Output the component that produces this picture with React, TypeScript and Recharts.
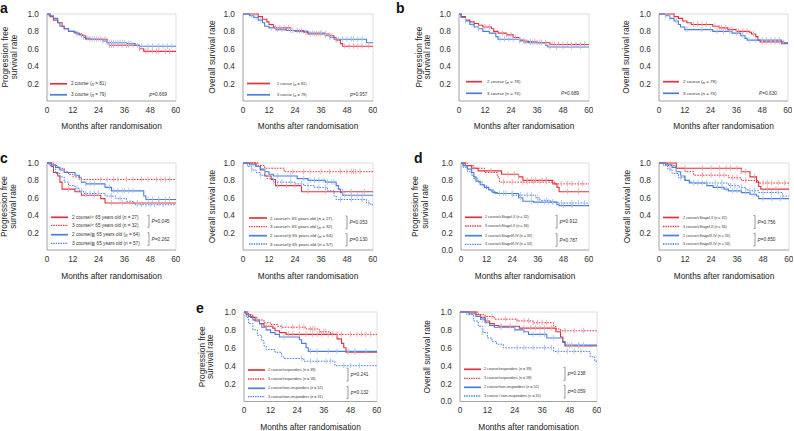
import React from "react"
import { ComposedChart, Line, Scatter, XAxis, YAxis, ReferenceLine } from "recharts"

type Pt = [number, number]

const FONT = '"Liberation Sans", Arial, Helvetica, sans-serif'
const RED = "#e0333d"
const RED_L = "#f3a2aa"
const BLUE = "#4a7edb"
const BLUE_L = "#a6c2ef"

const monthTicks = [0, 12, 24, 36, 48, 60]
const rateTicks = [0.2, 0.4, 0.6, 0.8, 1.0]
const rateTicksZero = [0, 0.2, 0.4, 0.6, 0.8, 1.0]

// a: all patients
const aPfs2: Pt[] = [[0, 1], [1.5, 0.97], [3, 0.93], [5, 0.9], [7, 0.86], [8, 0.83], [10, 0.8], [12.5, 0.79], [14, 0.77], [16, 0.75], [18, 0.72], [20, 0.71], [28, 0.67], [29, 0.64], [43, 0.6], [45, 0.57], [60, 0.57]]
const aPfs3: Pt[] = [[0, 1], [1, 0.98], [3, 0.95], [5, 0.9], [6, 0.86], [8, 0.83], [10, 0.8], [13, 0.78], [15, 0.76], [17, 0.73], [18, 0.71], [26, 0.69], [28, 0.67], [37, 0.66], [41, 0.64], [43, 0.63], [60, 0.63]]
const aPfs2Cens = [14, 16, 19, 21, 23, 25, 27, 29, 30, 31, 33, 35, 37, 38, 40, 43, 46, 47, 49, 51, 52, 55, 57]
const aPfs3Cens = [17, 20, 22, 24, 26, 28, 29, 30, 31, 32, 33, 34, 35, 36, 38, 39, 42, 44, 47, 49, 52, 54, 56, 58]
const aOs2: Pt[] = [[0, 1], [7, 0.97], [9, 0.94], [11, 0.91], [12, 0.88], [14, 0.85], [15, 0.84], [22, 0.81], [28, 0.79], [30, 0.77], [40, 0.75], [42, 0.73], [43, 0.7], [45, 0.66], [46, 0.63], [60, 0.63]]
const aOs3: Pt[] = [[0, 1], [3, 0.98], [5, 0.96], [7, 0.93], [9, 0.9], [10, 0.86], [12, 0.84], [15, 0.82], [20, 0.81], [24, 0.8], [30, 0.78], [38, 0.75], [40, 0.73], [42, 0.71], [57, 0.67], [60, 0.67]]
const aOs2Cens = [15, 17, 19, 21, 23, 25, 27, 29, 31, 33, 34, 35, 36, 38, 40, 41, 43, 47, 49, 51, 53, 55, 58]
const aOs3Cens = [4, 6, 8, 13, 16, 18, 22, 26, 32, 36, 38, 40, 44, 46, 48, 50, 51, 53, 55]

// b
const bPfs2: Pt[] = [[0, 1], [1, 0.97], [3, 0.93], [5, 0.91], [7, 0.89], [9, 0.87], [11, 0.85], [15, 0.83], [16, 0.8], [18, 0.78], [22, 0.76], [25, 0.73], [28, 0.7], [30, 0.68], [36, 0.67], [42, 0.65], [60, 0.65]]
const bPfs3: Pt[] = [[0, 1], [1, 0.96], [3, 0.92], [5, 0.88], [7, 0.85], [9, 0.83], [11, 0.8], [14, 0.78], [17, 0.74], [18, 0.71], [28, 0.69], [32, 0.67], [40, 0.64], [41, 0.62], [60, 0.62]]
const bPfs2Cens = [12, 14, 20, 22, 24, 26, 28, 30, 31, 33, 35, 37, 38, 40, 43, 44, 46, 48, 50, 52, 54, 56, 58]
const bPfs3Cens = [3, 6, 9, 19, 21, 23, 25, 28, 30, 33, 34, 36, 38, 42, 45, 48, 52, 56]
const bOs2: Pt[] = [[0, 1], [7, 0.97], [9, 0.95], [11, 0.92], [13, 0.9], [15, 0.88], [25, 0.86], [28, 0.84], [32, 0.82], [36, 0.8], [42, 0.79], [43, 0.77], [45, 0.74], [46, 0.7], [47, 0.68], [58, 0.67], [60, 0.67]]
const bOs3: Pt[] = [[0, 1], [3, 0.98], [5, 0.95], [7, 0.92], [9, 0.88], [10, 0.85], [12, 0.82], [25, 0.8], [34, 0.78], [38, 0.75], [40, 0.72], [41, 0.7], [57, 0.66], [60, 0.66]]
const bOs2Cens = [16, 18, 20, 22, 26, 28, 29, 31, 33, 34, 36, 37, 39, 41, 44, 48, 50, 52, 54, 56, 58]
const bOs3Cens = [3, 5, 8, 13, 20, 24, 27, 30, 33, 36, 39, 42, 45, 48, 50, 52, 54, 56]

// c: by age
const cPfs2Young: Pt[] = [[0, 1], [2, 0.96], [3, 0.89], [5, 0.85], [6, 0.78], [7, 0.7], [13, 0.67], [16, 0.63], [25, 0.59], [27, 0.54], [60, 0.54]]
const cPfs3Young: Pt[] = [[0, 1], [3, 0.97], [5, 0.94], [8, 0.9], [10, 0.87], [12, 0.84], [15, 0.81], [60, 0.81]]
const cPfs2Old: Pt[] = [[0, 1], [2, 0.98], [4, 0.95], [6, 0.92], [8, 0.89], [13, 0.86], [15, 0.83], [16, 0.78], [18, 0.76], [27, 0.72], [30, 0.68], [45, 0.62], [46, 0.58], [60, 0.58]]
const cPfs3Old: Pt[] = [[0, 1], [1, 0.97], [3, 0.93], [4, 0.88], [6, 0.84], [8, 0.78], [10, 0.74], [13, 0.71], [15, 0.68], [17, 0.65], [27, 0.62], [32, 0.59], [37, 0.56], [40, 0.54], [41, 0.52], [60, 0.52]]
const cPfs2YoungCens = [10, 18, 22, 30, 35, 42, 52]
const cPfs3YoungCens = [16, 25, 28, 31, 33, 37, 40, 44, 47, 51, 53, 55, 57]
const cPfs2OldCens = [18, 20, 22, 29, 31, 33, 35, 36, 38, 40, 47, 49, 52, 55, 57]
const cPfs3OldCens = [14, 16, 18, 20, 22, 24, 30, 34, 42, 44, 46, 48, 50, 54]
const cOs2Young: Pt[] = [[0, 1], [6, 0.96], [8, 0.92], [10, 0.85], [13, 0.81], [15, 0.74], [27, 0.67], [60, 0.67]]
const cOs3Young: Pt[] = [[0, 1], [7, 0.97], [10, 0.94], [19, 0.9], [60, 0.9]]
const cOs2Old: Pt[] = [[0, 1], [3, 0.98], [6, 0.96], [8, 0.93], [10, 0.9], [12, 0.87], [14, 0.85], [25, 0.82], [30, 0.8], [38, 0.78], [43, 0.74], [44, 0.7], [45, 0.66], [46, 0.63], [60, 0.63]]
const cOs3Old: Pt[] = [[0, 1], [2, 0.96], [4, 0.92], [6, 0.89], [8, 0.86], [11, 0.82], [14, 0.78], [24, 0.76], [28, 0.74], [33, 0.72], [39, 0.68], [42, 0.62], [43, 0.58], [57, 0.54], [59, 0.52], [60, 0.52]]
const cOs2YoungCens = [16, 20, 24, 30, 38, 46, 50, 56]
const cOs3YoungCens = [23, 28, 31, 36, 40, 45, 48, 50, 51, 52, 54]
const cOs2OldCens = [10, 16, 22, 28, 31, 33, 35, 37, 39, 41, 42, 47, 50, 53, 55]
const cOs3OldCens = [4, 8, 14, 18, 22, 27, 30, 35, 38, 45, 50, 55, 58]

// d: by clinical stage
const dPfs2Early: Pt[] = [[0, 1], [2, 0.97], [5, 0.94], [8, 0.91], [19, 0.87], [27, 0.84], [29, 0.8], [43, 0.76], [45, 0.72], [46, 0.67], [60, 0.67]]
const dPfs3Early: Pt[] = [[0, 1], [3, 0.97], [6, 0.94], [11, 0.89], [17, 0.84], [18, 0.78], [44, 0.76], [60, 0.76]]
const dPfs2Late: Pt[] = [[0, 1], [1, 0.97], [3, 0.93], [5, 0.89], [6, 0.84], [7, 0.79], [9, 0.75], [11, 0.72], [13, 0.69], [15, 0.66], [17, 0.65], [27, 0.6], [29, 0.56], [34, 0.55], [45, 0.52], [46, 0.51], [60, 0.51]]
const dPfs3Late: Pt[] = [[0, 1], [1, 0.95], [3, 0.9], [5, 0.86], [6, 0.82], [8, 0.78], [10, 0.74], [12, 0.7], [14, 0.67], [16, 0.65], [24, 0.63], [35, 0.6], [37, 0.57], [42, 0.55], [45, 0.54], [60, 0.54]]
const dPfs2EarlyCens = [6, 14, 22, 25, 27, 31, 33, 35, 38, 40, 50, 55]
const dPfs3EarlyCens = [20, 24, 29, 31, 34, 37, 40, 47, 50, 52, 55, 57]
const dPfs2LateCens = [20, 24, 28, 33, 36, 39, 41, 43, 48, 52]
const dPfs3LateCens = [18, 21, 24, 28, 31, 33, 36, 40, 43, 47, 52, 55, 58]
const dOs2Early: Pt[] = [[0, 1], [8, 0.94], [38, 0.9], [42, 0.84], [45, 0.78], [46, 0.73], [47, 0.7], [60, 0.7]]
const dOs3Early: Pt[] = [[0, 1], [4, 0.97], [8, 0.94], [12, 0.9], [16, 0.86], [32, 0.83], [38, 0.8], [46, 0.77], [60, 0.77]]
const dOs2Late: Pt[] = [[0, 1], [3, 0.98], [6, 0.95], [8, 0.9], [10, 0.85], [12, 0.8], [14, 0.77], [22, 0.74], [25, 0.72], [30, 0.7], [32, 0.68], [38, 0.66], [42, 0.64], [45, 0.62], [46, 0.59], [60, 0.59]]
const dOs3Late: Pt[] = [[0, 1], [2, 0.97], [4, 0.93], [6, 0.88], [9, 0.83], [12, 0.8], [14, 0.78], [16, 0.77], [32, 0.74], [37, 0.72], [40, 0.7], [41, 0.68], [46, 0.66], [57, 0.62], [60, 0.62]]
const dOs2EarlyCens = [12, 20, 24, 28, 31, 33, 36, 38, 40, 44, 50, 54]
const dOs3EarlyCens = [20, 24, 28, 30, 34, 36, 40, 48, 50, 52, 55, 58]
const dOs2LateCens = [8, 16, 20, 27, 29, 31, 34, 36, 40, 44, 48, 52, 56]
const dOs3LateCens = [5, 10, 18, 22, 26, 29, 33, 35, 38, 42, 44, 48, 52, 55, 57]

// e: by response
const ePfs2Resp: Pt[] = [[0, 1], [1, 0.97], [3, 0.94], [5, 0.9], [7, 0.87], [9, 0.84], [13, 0.82], [14, 0.79], [16, 0.77], [19, 0.75], [42, 0.7], [44, 0.65], [45, 0.6], [46, 0.55], [60, 0.55]]
const ePfs3Resp: Pt[] = [[0, 1], [2, 0.97], [4, 0.94], [6, 0.91], [9, 0.88], [12, 0.86], [15, 0.84], [17, 0.83], [28, 0.81], [34, 0.78], [39, 0.76], [40, 0.75], [60, 0.75]]
const ePfs2Non: Pt[] = [[0, 1], [1, 0.98], [2, 0.95], [4, 0.91], [7, 0.87], [8, 0.83], [10, 0.8], [12, 0.77], [14, 0.75], [16, 0.72], [25, 0.69], [26, 0.65], [28, 0.6], [29, 0.56], [60, 0.56]]
const ePfs3Non: Pt[] = [[0, 1], [1, 0.94], [2, 0.87], [4, 0.8], [6, 0.74], [8, 0.68], [9, 0.62], [10, 0.58], [14, 0.55], [17, 0.5], [18, 0.48], [27, 0.45], [41, 0.4], [60, 0.4]]
const ePfs2RespCens = [10, 20, 22, 25, 28, 31, 33, 35, 38, 40, 47, 50]
const ePfs3RespCens = [6, 17, 22, 25, 27, 30, 31, 32, 34, 36, 37, 42, 44, 48, 51, 53, 55, 57]
const ePfs2NonCens = [18, 30, 33, 38, 42, 47, 50, 55]
const ePfs3NonCens = [26, 30, 33, 37, 39, 45, 48, 52]
const eOs2Resp: Pt[] = [[0, 1], [7, 0.97], [9, 0.94], [11, 0.9], [13, 0.87], [15, 0.85], [17, 0.84], [26, 0.82], [42, 0.78], [44, 0.72], [45, 0.67], [46, 0.62], [60, 0.62]]
const eOs3Resp: Pt[] = [[0, 1], [8, 0.97], [11, 0.95], [15, 0.92], [25, 0.9], [32, 0.88], [41, 0.84], [42, 0.81], [44, 0.79], [60, 0.79]]
const eOs2Non: Pt[] = [[0, 1], [4, 0.98], [7, 0.95], [9, 0.92], [11, 0.88], [13, 0.85], [15, 0.83], [24, 0.8], [28, 0.78], [30, 0.75], [38, 0.71], [45, 0.66], [46, 0.63], [60, 0.63]]
const eOs3Non: Pt[] = [[0, 1], [3, 0.97], [6, 0.9], [8, 0.84], [10, 0.77], [12, 0.71], [14, 0.67], [16, 0.64], [19, 0.6], [41, 0.56], [57, 0.5], [59, 0.45], [60, 0.45]]
const eOs2RespCens = [12, 18, 22, 28, 31, 33, 35, 37, 40, 48, 52]
const eOs3RespCens = [14, 20, 25, 28, 30, 32, 34, 36, 38, 46, 50, 54]
const eOs2NonCens = [10, 18, 24, 28, 32, 35, 37, 41, 47, 49, 52, 54]
const eOs3NonCens = [10, 25, 28, 32, 37, 40, 43, 47, 50, 53]

// legend labels and p values
const courseLabels = ["2 course", "3 course"]
const ageLabels = ["2 course/< 65 years old", "3 course/< 65 years old", "2 course/\u2267 65 years old", "3 course/\u2267 65 years old"]
const stageLabels = ["2 course/cStageI-II", "3 course/cStageI-II", "2 course/cStageIII-IV", "3 course/cStageIII-IV"]
const respLabels = ["2 course/responders", "3 course/responders", "2 course/non-responders", "3 course/non-responders"]
const respLabelsOs = ["2 course/responders", "3 course/responders", "2 course/non-responders", "3 course / non-responders"]
const aN = [81, 79]
const bN = [78, 76]
const cN = [27, 32, 64, 57]
const dN = [32, 36, 59, 53]
const eN = [39, 58, 52, 31]

type Curve = { pts: Pt[]; cens: number[]; color: string; light: string; dashed: boolean }
const red = (pts: Pt[], cens: number[], dashed = false): Curve => ({ pts, cens, color: RED, light: RED_L, dashed })
const blue = (pts: Pt[], cens: number[], dashed = false): Curve => ({ pts, cens, color: BLUE, light: BLUE_L, dashed })

type Panel = {
  letter?: { ch: string; x: number; y: number }
  kind: "pfs" | "os"
  box: { x0: number; x1: number; yT: number; yB: number }
  yTicks: number[]
  curves: Curve[]
  labels: string[]
  ns: number[]
  pvals: string[]
  lg: { rows: number[]; l0: number; l1: number; tx: number; fs: number; px: number; pfs: number }
  titleX: number[]
}

const row1 = { yT: 13.5, yB: 100.5 }
const row2 = { yT: 163, yB: 250 }
const row3 = { yT: 312, yB: 401.5 }

const panels: Panel[] = [
  {
    letter: { ch: "a", x: 0, y: 12.5 }, kind: "pfs", box: { x0: 47, x1: 176, ...row1 }, yTicks: rateTicks,
    curves: [red(aPfs2, aPfs2Cens), blue(aPfs3, aPfs3Cens)],
    labels: courseLabels, ns: aN, pvals: ["0.669"],
    lg: { rows: [70.3, 81.3], l0: 3, l1: 20, tx: 24, fs: 4.6, px: 102, pfs: 4.8 }, titleX: [-42, -33.5],
  },
  {
    kind: "os", box: { x0: 243, x1: 373, ...row1 }, yTicks: rateTicks,
    curves: [red(aOs2, aOs2Cens), blue(aOs3, aOs3Cens)],
    labels: courseLabels, ns: aN, pvals: ["0.957"],
    lg: { rows: [70, 81.3], l0: 4, l1: 27, tx: 34, fs: 3.9, px: 107, pfs: 4.6 }, titleX: [-31.5],
  },
  {
    letter: { ch: "b", x: 396, y: 13 }, kind: "pfs", box: { x0: 459, x1: 589, ...row1 }, yTicks: rateTicks,
    curves: [red(bPfs2, bPfs2Cens), blue(bPfs3, bPfs3Cens)],
    labels: courseLabels, ns: bN, pvals: ["0.689"],
    lg: { rows: [68.2, 79.8], l0: 7, l1: 23, tx: 28, fs: 4.4, px: 102, pfs: 4.8 }, titleX: [-40.5, -32.5],
  },
  {
    kind: "os", box: { x0: 659, x1: 788, ...row1 }, yTicks: rateTicks,
    curves: [red(bOs2, bOs2Cens), blue(bOs3, bOs3Cens)],
    labels: courseLabels, ns: bN, pvals: ["0.630"],
    lg: { rows: [68.2, 79.8], l0: 4, l1: 20, tx: 24, fs: 4.4, px: 100, pfs: 4.8 }, titleX: [-33.5],
  },
  {
    letter: { ch: "c", x: 0, y: 163 }, kind: "pfs", box: { x0: 47, x1: 176, ...row2 }, yTicks: rateTicks,
    curves: [red(cPfs2Young, cPfs2YoungCens), red(cPfs3Young, cPfs3YoungCens, true), blue(cPfs2Old, cPfs2OldCens), blue(cPfs3Old, cPfs3OldCens, true)],
    labels: ageLabels, ns: cN, pvals: ["0.045", "0.262"],
    lg: { rows: [54.3, 62.3, 71.7, 80.3], l0: 4, l1: 21, tx: 25, fs: 4.7, px: 102, pfs: 4.8 }, titleX: [-43, -34],
  },
  {
    kind: "os", box: { x0: 243, x1: 373, ...row2 }, yTicks: rateTicks,
    curves: [red(cOs2Young, cOs2YoungCens), red(cOs3Young, cOs3YoungCens, true), blue(cOs2Old, cOs2OldCens), blue(cOs3Old, cOs3OldCens, true)],
    labels: ageLabels, ns: cN, pvals: ["0.053", "0.130"],
    lg: { rows: [55, 63.7, 72.7, 81], l0: 6, l1: 24, tx: 27, fs: 4.4, px: 104, pfs: 4.8 }, titleX: [-31.5],
  },
  {
    letter: { ch: "d", x: 414, y: 163 }, kind: "pfs", box: { x0: 461, x1: 589, ...row2 }, yTicks: rateTicksZero,
    curves: [red(dPfs2Early, dPfs2EarlyCens), red(dPfs3Early, dPfs3EarlyCens, true), blue(dPfs2Late, dPfs2LateCens), blue(dPfs3Late, dPfs3LateCens, true)],
    labels: stageLabels, ns: dN, pvals: ["0.912", "0.787"],
    lg: { rows: [54.3, 63, 72.7, 81.3], l0: 4, l1: 21, tx: 24, fs: 3.6, px: 96, pfs: 4.8 }, titleX: [-46, -36.5],
  },
  {
    kind: "os", box: { x0: 659, x1: 789, ...row2 }, yTicks: rateTicks,
    curves: [red(dOs2Early, dOs2EarlyCens), red(dOs3Early, dOs3EarlyCens, true), blue(dOs2Late, dOs2LateCens), blue(dOs3Late, dOs3LateCens, true)],
    labels: stageLabels, ns: dN, pvals: ["0.756", "0.850"],
    lg: { rows: [54.5, 63.5, 72.5, 81], l0: 4, l1: 20, tx: 24, fs: 3.6, px: 96, pfs: 4.8 }, titleX: [-32.5],
  },
  {
    letter: { ch: "e", x: 196, y: 313 }, kind: "pfs", box: { x0: 244, x1: 377, ...row3 }, yTicks: rateTicks,
    curves: [red(ePfs2Resp, ePfs2RespCens), red(ePfs3Resp, ePfs3RespCens, true), blue(ePfs2Non, ePfs2NonCens), blue(ePfs3Non, ePfs3NonCens, true)],
    labels: respLabels, ns: eN, pvals: ["0.241", "0.132"],
    lg: { rows: [58, 67, 76.3, 84.7], l0: 4, l1: 21, tx: 24, fs: 3.7, px: 104, pfs: 4.8 }, titleX: [-42.5, -34],
  },
  {
    kind: "os", box: { x0: 460, x1: 597, ...row3 }, yTicks: rateTicksZero,
    curves: [red(eOs2Resp, eOs2RespCens), red(eOs3Resp, eOs3RespCens, true), blue(eOs2Non, eOs2NonCens), blue(eOs3Non, eOs3NonCens, true)],
    labels: respLabelsOs, ns: eN, pvals: ["0.238", "0.059"],
    lg: { rows: [57.3, 66.3, 75.3, 84], l0: 4, l1: 21, tx: 24, fs: 3.7, px: 105, pfs: 4.8 }, titleX: [-33.5],
  },
]

function survAt(pts: Pt[], t: number) {
  let s = 1
  for (const [pt, ps] of pts) {
    if (pt <= t) s = ps
    else break
  }
  return s
}

const YW = 30
const MT = 4
const MR = 4
const XH = 18

function KmChart({ p }: { p: Panel }) {
  const { x0, x1, yT, yB } = p.box
  const w = x1 - x0 + YW + MR
  const h = yB - yT + MT + XH
  const tick = { fontSize: 8.3, fill: "#333", fontFamily: FONT }
  return (
    <div style={{ position: "absolute", left: x0 - YW, top: yT - MT }}>
      <ComposedChart width={w} height={h} margin={{ top: MT, right: MR, left: 0, bottom: 0 }}>
        <XAxis
          type="number"
          dataKey="t"
          domain={[0, 60]}
          ticks={monthTicks}
          height={XH}
          tick={tick}
          tickLine={false}
          tickSize={3}
          tickMargin={3}
          axisLine={{ stroke: "#8a8a8a", strokeWidth: 0.8 }}
        />
        <YAxis
          type="number"
          domain={[0, 1]}
          ticks={p.yTicks}
          width={YW}
          tick={tick}
          tickLine={false}
          tickSize={3}
          tickMargin={5}
          tickFormatter={(v: number) => v.toFixed(1)}
          axisLine={{ stroke: "#8a8a8a", strokeWidth: 0.8 }}
        />
        <ReferenceLine y={1} stroke="#d4d4d4" strokeWidth={0.8} />
        <ReferenceLine x={60} stroke="#d4d4d4" strokeWidth={0.8} />
        {p.curves.map((c, i) => (
          <Scatter
            key={"c" + i}
            data={c.cens.map((t) => ({ t, s: survAt(c.pts, t) }))}
            dataKey="s"
            isAnimationActive={false}
            shape={(sp: any) => (
              <line x1={sp.cx} x2={sp.cx} y1={sp.cy - 3} y2={sp.cy + 2.5} stroke={c.light} strokeWidth={0.9} />
            )}
          />
        ))}
        {p.curves.map((c, i) => (
          <Line
            key={"l" + i}
            data={c.pts.map(([t, s]) => ({ t, s }))}
            dataKey="s"
            type="stepAfter"
            stroke={c.color}
            strokeWidth={c.dashed ? 1 : 1.1}
            strokeDasharray={c.dashed ? "1.6 1.2" : undefined}
            dot={false}
            isAnimationActive={false}
          />
        ))}
      </ComposedChart>
    </div>
  )
}

function PanelText({ p }: { p: Panel }) {
  const { x0, x1, yT, yB } = p.box
  const yc = (yT + yB) / 2
  const lg = p.lg
  const titles = p.kind === "pfs" ? ["Progression free", "survival rate"] : ["Overall survival rate"]
  return (
    <g>
      {p.letter && (
        <text x={p.letter.x} y={p.letter.y} fontSize={14} fontWeight="bold" fill="#111">
          {p.letter.ch}
        </text>
      )}
      {titles.map((t, i) => (
        <text
          key={t}
          transform={`translate(${x0 + p.titleX[i]},${yc}) rotate(-90)`}
          textAnchor="middle"
          dominantBaseline="central"
          fontSize={8.3}
          fill="#222"
        >
          {t}
        </text>
      ))}
      <text x={(x0 + x1) / 2} y={yB + 25.5} textAnchor="middle" dominantBaseline="central" fontSize={8.3} fill="#222">
        Months after randomisation
      </text>
      {p.labels.map((label, i) => {
        const c = p.curves[i]
        const y = yT + lg.rows[i]
        return (
          <g key={label + i}>
            <line
              x1={x0 + lg.l0}
              x2={x0 + lg.l1}
              y1={y}
              y2={y}
              stroke={c.color}
              strokeWidth={c.dashed ? 1.3 : 1.7}
              strokeDasharray={c.dashed ? "1.4 1" : undefined}
            />
            <text x={x0 + lg.tx} y={y} dominantBaseline="central" fontSize={lg.fs} fill="#333">
              {label} (<tspan fontStyle="italic">n</tspan> = {p.ns[i]})
            </text>
          </g>
        )
      })}
      {p.pvals.length === 1 ? (
        <text x={x0 + lg.px} y={yT + lg.rows[1]} dominantBaseline="central" fontSize={lg.pfs} fill="#333">
          <tspan fontStyle="italic">P</tspan>={p.pvals[0]}
        </text>
      ) : (
        p.pvals.map((pv, k) => {
          const ya = yT + lg.rows[k * 2] - 2
          const yb = yT + lg.rows[k * 2 + 1] + 2
          const bx = x0 + lg.px
          return (
            <g key={pv}>
              <path d={`M${bx - 1.5} ${ya} H${bx} V${yb} H${bx - 1.5}`} fill="none" stroke="#555" strokeWidth={0.6} />
              <text x={bx + 2.5} y={(ya + yb) / 2} dominantBaseline="central" fontSize={lg.pfs} fill="#333">
                <tspan fontStyle="italic">P</tspan>={pv}
              </text>
            </g>
          )
        })
      )}
    </g>
  )
}

export default function App() {
  return (
    <div style={{ position: "absolute", left: 0, top: 0, width: 794, height: 431, background: "#fff", fontFamily: FONT }}>
      {panels.map((p, i) => (
        <KmChart key={i} p={p} />
      ))}
      <svg width={794} height={431} style={{ position: "absolute", left: 0, top: 0, pointerEvents: "none" }} fontFamily={FONT}>
        {panels.map((p, i) => (
          <PanelText key={i} p={p} />
        ))}
      </svg>
    </div>
  )
}
